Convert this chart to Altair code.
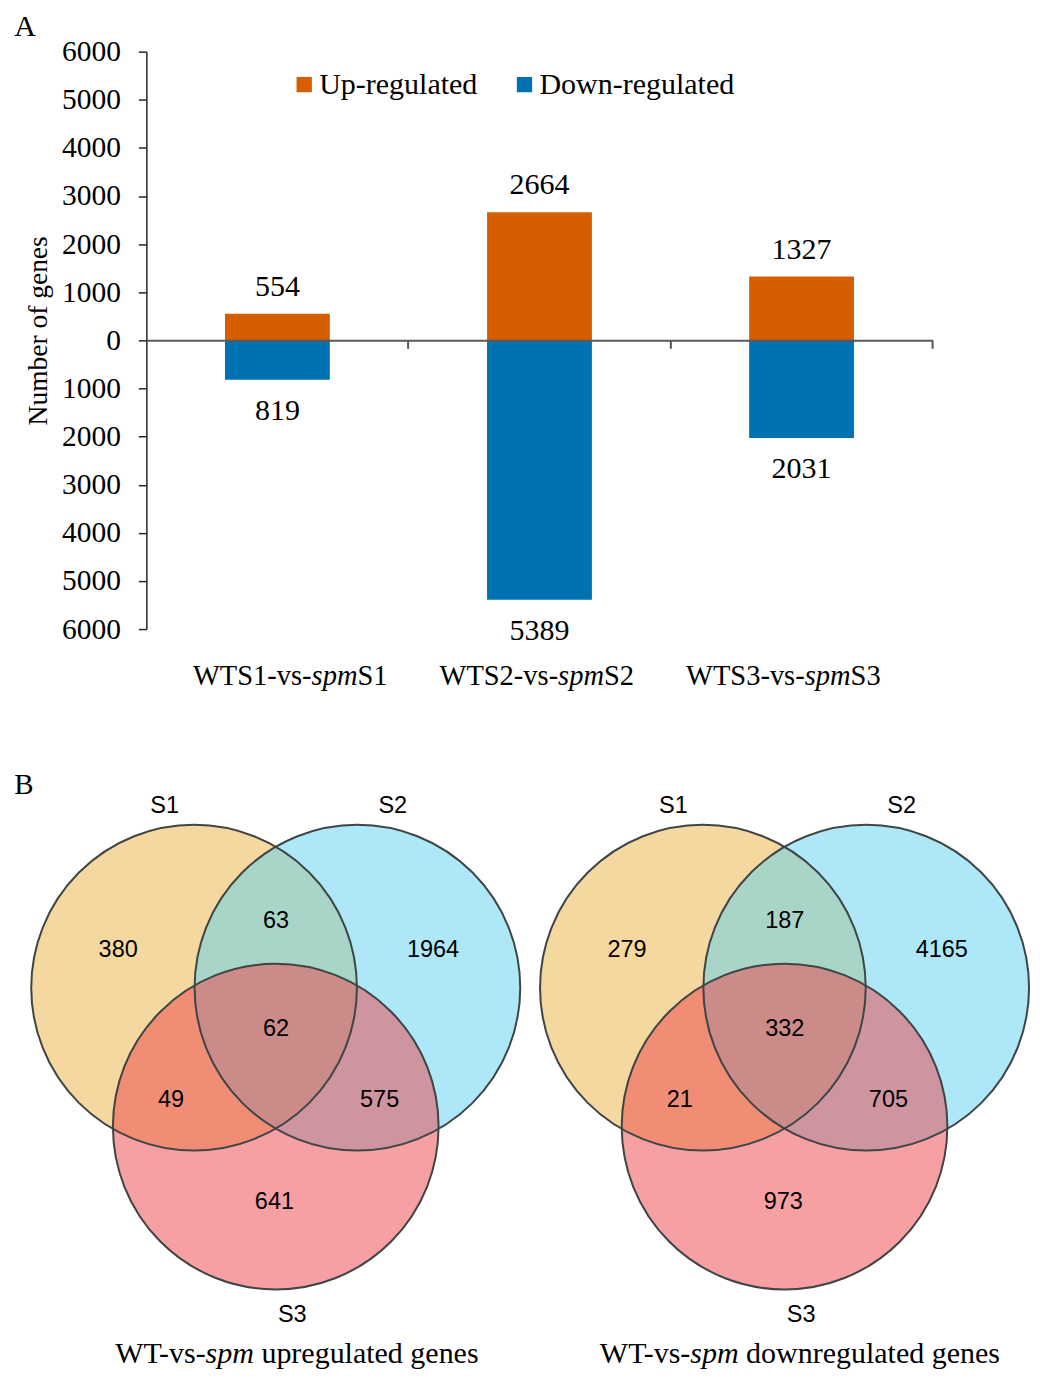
import altair as alt
import pandas as pd

# ---------------- data ----------------
comparisons = ["WTS1-vs-spmS1", "WTS2-vs-spmS2", "WTS3-vs-spmS3"]
label_prefix = ["WTS1-vs-", "WTS2-vs-", "WTS3-vs-"]
label_italic = ["spm", "spm", "spm"]
label_suffix = ["S1", "S2", "S3"]
regulation = ["Up-regulated", "Down-regulated"]
up_regulated = [554, 2664, 1327]
down_regulated = [819, 5389, 2031]
y_tick_values = [-6000, -5000, -4000, -3000, -2000, -1000, 0,
                 1000, 2000, 3000, 4000, 5000, 6000]

venn_sets = ["S1", "S2", "S3"]
venn_regions = ["S1 only", "S1&S2", "S2 only", "S1&S2&S3", "S1&S3", "S2&S3", "S3 only"]
venn_up_counts = [380, 63, 1964, 62, 49, 575, 641]
venn_down_counts = [279, 187, 4165, 332, 21, 705, 973]

# ---------------- style ----------------
SERIF = "Liberation Serif"
SANS = "Liberation Sans"
UP_COLOR = "#D55E00"
DOWN_COLOR = "#0072B2"
SET_COLORS = ["#EBB141", "#5DD1F1", "#ED4149"]
OUTLINE = "#3E4545"

# Times-compatible advance widths (per 1000 em) used to join roman + italic runs
ROMAN = {"W": 944, "T": 611, "S": 556, "-": 333, "v": 500, "s": 389, "1": 500, "2": 500,
         "3": 500, " ": 250, "u": 500, "p": 500, "r": 333, "e": 444, "g": 500, "l": 278,
         "a": 444, "t": 278, "d": 500, "n": 500, "o": 500, "w": 722}
ITALIC = {"s": 389, "p": 500, "m": 722}


def text_width(txt, size, italic=False):
    table = ITALIC if italic else ROMAN
    return sum(table[c] for c in txt) * size / 1000.0


# ---------------- layout ----------------
AXIS_X = 118.5                       # y-axis position inside the top panel
BAR_W, BAR_H = 787, 578
TOP_W = AXIS_X + BAR_W
LABEL_RANGE = [AXIS_X + 144, AXIS_X + 637.6]   # centres of the category captions
CAT_FS = 28.5

VENN_R = 163                         # circle radius in px
VENN_SIZE = (2 * VENN_R) ** 2
VENN_X = [-248, 247]
VENN_Y = [-379.5, 226.5]
VENN_W = VENN_X[1] - VENN_X[0]
VENN_H = VENN_Y[1] - VENN_Y[0]
VENN_GAP = 14.3
set_cx = [-81.75, 81.75, 0.0]
set_cy = [0.0, 0.0, -139.0]
name_x = [-111.2, 117.2, 16.6]
name_y = [181.4, 181.4, -327.4]
region_x = [-157.7, 0.3, 157.4, 0.3, -104.8, 104.0, -1.3]
region_y = [37.8, 66.4, 37.8, -40.9, -112.4, -112.4, -214.6]
CAP_FS = 30
caption_y = -366.5

# ---------------- panel A: bar chart ----------------
bars_df = pd.DataFrame({
    "comparison": comparisons * 2,
    "regulation": [regulation[0]] * 3 + [regulation[1]] * 3,
    "genes": up_regulated + down_regulated,
})
base = alt.Chart(bars_df).transform_calculate(
    signed="datum.regulation === 'Up-regulated' ? datum.genes : -datum.genes"
)
band = alt.Scale(range=[AXIS_X, AXIS_X + BAR_W], paddingInner=0.6, paddingOuter=0.3)
yscale = alt.Scale(domain=[-6000, 6000], nice=False, zero=False)
y_axis = alt.Axis(values=y_tick_values, labelExpr="abs(datum.value)", grid=False,
                  offset=-AXIS_X,
                  tickSize=8, tickColor="#262626", tickWidth=1.5,
                  domainColor="#262626", domainWidth=1.5,
                  labelFont=SERIF, labelFontSize=29.5, labelColor="black",
                  labelPadding=18, labelOverlap=False,
                  title="Number of genes", titleFont=SERIF, titleFontSize=27.5,
                  titleFontWeight="normal", titleColor="black",
                  titleX=-93.5, titleY=279)
y_enc = alt.Y("signed:Q", scale=yscale, axis=y_axis, title="Number of genes")

bars = base.mark_bar().encode(
    x=alt.X("comparison:N", sort=comparisons, scale=band, title=None,
            axis=alt.Axis(orient="bottom", offset=-BAR_H / 2, labels=False, title=None,
                          tickSize=8, bandPosition=1.75, tickColor="#595959", tickWidth=2,
                          domainColor="#595959", domainWidth=2, grid=False, zindex=1)),
    y=y_enc,
    color=alt.Color("regulation:N",
                    scale=alt.Scale(domain=regulation, range=[UP_COLOR, DOWN_COLOR]),
                    legend=alt.Legend(orient="none", legendX=AXIS_X + 143, legendY=18,
                                      direction="horizontal", title=None,
                                      symbolType="square", symbolSize=235,
                                      symbolStrokeWidth=0, labelFont=SERIF,
                                      labelFontSize=30, labelColor="black", labelLimit=400,
                                      labelOffset=0, columnPadding=31.5, padding=0)),
)

x_text = alt.X("comparison:N", sort=comparisons, scale=band, axis=None)
up_text = base.transform_filter("datum.regulation === 'Up-regulated'").mark_text(
    dy=-27, font=SERIF, fontSize=30, color="black", baseline="middle"
).encode(x=x_text, y=y_enc, text="genes:Q")
down_text = base.transform_filter("datum.regulation === 'Down-regulated'").mark_text(
    dy=31, font=SERIF, fontSize=30, color="black", baseline="middle"
).encode(x=x_text, y=y_enc, text="genes:Q")

lab_df = pd.DataFrame({"comparison": comparisons, "prefix": label_prefix,
                       "italic": label_italic, "suffix": label_suffix})
w_pre = text_width(label_prefix[0], CAT_FS)
w_it = text_width(label_italic[0], CAT_FS, italic=True)
w_suf = text_width(label_suffix[0], CAT_FS)
anchor = (w_pre - w_it - w_suf) / 2
lab_base = alt.Chart(lab_df).encode(
    x=alt.X("comparison:N", sort=comparisons,
            scale=alt.Scale(type="point", range=LABEL_RANGE, padding=0), axis=None),
    y=alt.value(BAR_H + 47),
)
lab_pre = lab_base.mark_text(align="right", baseline="middle", dx=anchor, font=SERIF,
                             fontSize=CAT_FS, color="black").encode(text="prefix:N")
lab_it = lab_base.mark_text(align="left", baseline="middle", dx=anchor, font=SERIF,
                            fontStyle="italic", fontSize=CAT_FS,
                            color="black").encode(text="italic:N")
lab_suf = lab_base.mark_text(align="left", baseline="middle", dx=anchor + w_it, font=SERIF,
                             fontSize=CAT_FS, color="black").encode(text="suffix:N")

letter_a = alt.Chart(pd.DataFrame({"letter": ["A"]})).mark_text(
    align="left", baseline="middle", font=SERIF, fontSize=30, color="black"
).encode(x=alt.value(-13.7), y=alt.value(-25), text="letter:N")

top = alt.layer(bars, up_text, down_text, lab_pre, lab_it, lab_suf, letter_a).resolve_scale(
    x="independent"
).properties(width=TOP_W, height=BAR_H)


# ---------------- panel B: Venn diagrams ----------------
def venn_panel(counts, cap_prefix, cap_italic, cap_suffix, cap_x, letter=None):
    xs = alt.Scale(domain=VENN_X, nice=False, zero=False)
    ys = alt.Scale(domain=VENN_Y, nice=False, zero=False)
    circles = pd.DataFrame({"set": venn_sets, "cx": set_cx, "cy": set_cy})
    fills = alt.Chart(circles).mark_circle(
        size=VENN_SIZE, opacity=1, fillOpacity=0.5, strokeWidth=0
    ).encode(
        x=alt.X("cx:Q", scale=xs, axis=None),
        y=alt.Y("cy:Q", scale=ys, axis=None),
        color=alt.Color("set:N", scale=alt.Scale(domain=venn_sets, range=SET_COLORS),
                        legend=None),
    )
    outlines = alt.Chart(circles).mark_point(
        shape="circle", filled=False, size=VENN_SIZE, opacity=1, color=OUTLINE,
        strokeWidth=2, strokeJoin="round"
    ).encode(x=alt.X("cx:Q", scale=xs, axis=None), y=alt.Y("cy:Q", scale=ys, axis=None))
    names = alt.Chart(pd.DataFrame({"set": venn_sets, "nx": name_x, "ny": name_y})).mark_text(
        font=SANS, fontSize=23.5, color="black", baseline="middle"
    ).encode(x=alt.X("nx:Q", scale=xs, axis=None), y=alt.Y("ny:Q", scale=ys, axis=None),
             text="set:N")
    regions = alt.Chart(pd.DataFrame({"region": venn_regions, "count": counts,
                                      "rx": region_x, "ry": region_y})).mark_text(
        font=SANS, fontSize=23.5, color="black", baseline="middle"
    ).encode(x=alt.X("rx:Q", scale=xs, axis=None), y=alt.Y("ry:Q", scale=ys, axis=None),
             text="count:Q")

    wp = text_width(cap_prefix, CAP_FS)
    wi = text_width(cap_italic, CAP_FS, italic=True)
    ws = text_width(" " + cap_suffix, CAP_FS)
    sp = text_width(" ", CAP_FS)
    a = (wp - wi - ws) / 2
    cap_df = pd.DataFrame({"prefix": [cap_prefix], "italic": [cap_italic],
                           "suffix": [cap_suffix], "cx": [cap_x], "cy": [caption_y]})
    cap_base = alt.Chart(cap_df).encode(x=alt.X("cx:Q", scale=xs, axis=None),
                                        y=alt.Y("cy:Q", scale=ys, axis=None))
    c1 = cap_base.mark_text(align="right", baseline="middle", dx=a, font=SERIF,
                            fontSize=CAP_FS, color="black").encode(text="prefix:N")
    c2 = cap_base.mark_text(align="left", baseline="middle", dx=a, font=SERIF,
                            fontStyle="italic", fontSize=CAP_FS,
                            color="black").encode(text="italic:N")
    c3 = cap_base.mark_text(align="left", baseline="middle", dx=a + wi + sp, font=SERIF,
                            fontSize=CAP_FS, color="black").encode(text="suffix:N")
    layers = [fills, outlines, names, regions, c1, c2, c3]
    if letter:
        layers.append(alt.Chart(pd.DataFrame({"letter": [letter]})).mark_text(
            align="left", baseline="middle", font=SERIF, fontSize=29, color="black"
        ).encode(x=alt.value(-13.7), y=alt.value(23.4), text="letter:N"))
    return alt.layer(*layers).properties(width=VENN_W, height=VENN_H)


venn_up = venn_panel(venn_up_counts, "WT-vs-", "spm", "upregulated genes", 19.8, letter="B")
venn_down = venn_panel(venn_down_counts, "WT-vs-", "spm", "downregulated genes", 14.0)
bottom = alt.hconcat(venn_up, venn_down, spacing=VENN_GAP)

chart = alt.vconcat(top, bottom, spacing=70.5).resolve_scale(
    color="independent"
).properties(
    padding={"left": 6, "top": 3, "right": 0, "bottom": 0}, background="white"
).configure_view(stroke=None)

chart.save("out.html", embed_options={"renderer": "svg", "actions": False})
